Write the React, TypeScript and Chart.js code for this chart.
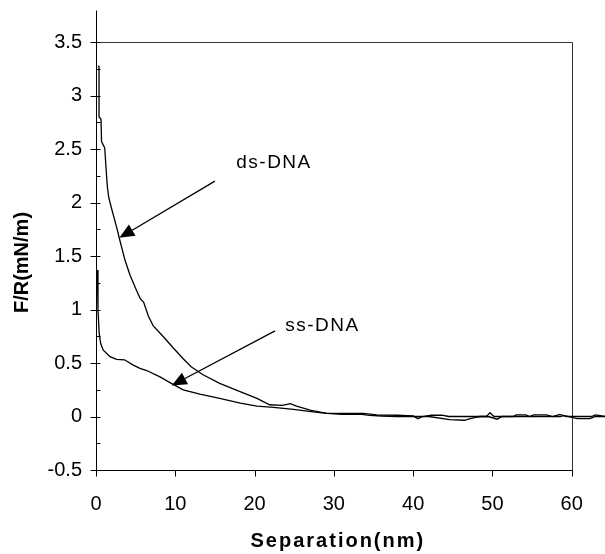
import { useEffect, useRef } from 'react';
import { Chart, registerables } from 'chart.js';

Chart.register(...registerables);

// ds-DNA force curve (separation nm, F/R mN/m)
const dsX = [0.3, 0.38, 0.38, 0.63, 0.7, 1.1, 1.26, 1.43, 1.6, 1.98, 2.6, 3.0, 3.66, 4.3, 5.1, 5.6, 6.0, 6.6, 7.2, 8.5, 9.75, 11.0, 12.0, 13.5, 15.6, 17.7, 20.3, 21.9, 23.5, 24.5, 25.2, 27.0, 29.1, 31.5, 33.7, 35.4, 38.0, 40.0, 40.6, 41.2, 42.3, 43.6, 44.5, 47.3, 48.0, 49.3, 49.7, 50.2, 52.6, 53.0, 54.2, 54.7, 55.2, 56.8, 57.6, 58.5, 59.3, 60.7, 62.5, 63.0, 64.2];
const dsY = [3.28, 3.27, 2.8, 2.78, 2.57, 2.51, 2.33, 2.15, 2.05, 1.94, 1.77, 1.65, 1.46, 1.32, 1.18, 1.1, 1.07, 0.94, 0.85, 0.745, 0.64, 0.54, 0.465, 0.39, 0.31, 0.247, 0.17, 0.11, 0.105, 0.12, 0.1, 0.06, 0.03, 0.03, 0.03, 0.015, 0.012, 0.005, -0.02, 0.0, 0.012, 0.012, 0.0, 0.0, 0.0, 0.005, 0.035, 0.0, 0.0, 0.015, 0.015, 0.0, 0.015, 0.015, 0.0, 0.02, 0.0, 0.0, 0.0, 0.015, 0.0];

// ss-DNA force curve
const ssX = [0.17, 0.25, 0.4, 0.6, 0.92, 1.77, 2.6, 3.6, 4.7, 5.55, 6.4, 8.07, 9.5, 11.0, 13.1, 15.6, 18.2, 20.3, 22.4, 24.9, 27.4, 29.1, 31.0, 33.5, 34.5, 36.0, 38.0, 40.0, 42.0, 44.6, 46.5, 47.2, 48.0, 49.5, 50.6, 51.2, 53.0, 55.0, 56.6, 57.2, 58.6, 59.0, 60.7, 62.3, 63.0, 64.2];
const ssY = [1.37, 1.0, 0.78, 0.68, 0.62, 0.56, 0.535, 0.53, 0.48, 0.45, 0.43, 0.37, 0.31, 0.25, 0.21, 0.17, 0.125, 0.098, 0.085, 0.067, 0.044, 0.03, 0.02, 0.02, 0.01, 0.005, 0.0, 0.0, 0.0, -0.03, -0.035, -0.02, -0.005, 0.0, -0.025, 0.0, 0.0, 0.0, 0.0, 0.0, 0.0, 0.01, -0.02, -0.02, 0.0, 0.0];

const xTickValues = [0, 10, 20, 30, 40, 50, 60];
const yTickValues = [-0.5, 0, 0.5, 1, 1.5, 2, 2.5, 3, 3.5];
const yMinorTickValues = [-0.25, 0.25, 0.75, 1.25, 1.75, 2.25, 2.75, 3.25];

const xAxisTitle = 'Separation(nm)';
const yAxisTitle = 'F/R(mN/m)';

const annotationLabels = ['ds-DNA', 'ss-DNA'];
const annotationTextX = [22.45, 28.57];
const annotationTextY = [2.376, 0.849];
const arrowFromX = [15.0, 22.58];
const arrowFromY = [2.2, 0.8];
const arrowToX = [2.94, 9.55];
const arrowToY = [1.67, 0.29];

const X_MIN = 0;
const X_MAX = 64.2;
const Y_MIN = -0.5;
const Y_MAX = 3.8;
const BOX_X = 60;
const BOX_Y = 3.5;

const toPoints = (xs: number[], ys: number[]) => xs.map((x, i) => ({ x, y: ys[i] }));

const framePlugin = {
  id: 'frame',
  beforeDatasetsDraw(chart: any) {
    const { ctx } = chart;
    const xs = chart.scales.x;
    const ys = chart.scales.y;
    const px = (v: number) => Math.round(xs.getPixelForValue(v)) + 0.5;
    const py = (v: number) => Math.round(ys.getPixelForValue(v)) + 0.5;
    ctx.save();
    ctx.strokeStyle = '#000';
    ctx.lineWidth = 1;
    ctx.beginPath();
    ctx.moveTo(px(0), py(Y_MAX));
    ctx.lineTo(px(0), py(Y_MIN));
    ctx.moveTo(px(0), py(Y_MIN));
    ctx.lineTo(px(BOX_X), py(Y_MIN));
    ctx.stroke();
    ctx.strokeStyle = '#333';
    ctx.beginPath();
    ctx.moveTo(px(0), py(BOX_Y));
    ctx.lineTo(px(BOX_X), py(BOX_Y));
    ctx.moveTo(px(BOX_X), py(BOX_Y));
    ctx.lineTo(px(BOX_X), py(Y_MIN));
    ctx.stroke();
    ctx.strokeStyle = '#000';
    ctx.beginPath();
    yTickValues.forEach((v) => {
      ctx.moveTo(px(0) - 6, py(v));
      ctx.lineTo(px(0) + 4, py(v));
    });
    yMinorTickValues.forEach((v) => {
      ctx.moveTo(px(0), py(v));
      ctx.lineTo(px(0) + 4, py(v));
    });
    xTickValues.forEach((v) => {
      ctx.moveTo(px(v), py(Y_MIN));
      ctx.lineTo(px(v), py(Y_MIN) + 6);
    });
    ctx.stroke();
    ctx.restore();
  },
  afterDatasetsDraw(chart: any) {
    const { ctx } = chart;
    const xs = chart.scales.x;
    const ys = chart.scales.y;
    ctx.save();
    ctx.strokeStyle = '#000';
    ctx.fillStyle = '#000';
    ctx.lineWidth = 1.3;
    annotationLabels.forEach((label, i) => {
      const x1 = xs.getPixelForValue(arrowFromX[i]);
      const y1 = ys.getPixelForValue(arrowFromY[i]);
      const x2 = xs.getPixelForValue(arrowToX[i]);
      const y2 = ys.getPixelForValue(arrowToY[i]);
      const ang = Math.atan2(y2 - y1, x2 - x1);
      const headLen = 15;
      const headW = 6.5;
      const bx = x2 - headLen * Math.cos(ang);
      const by = y2 - headLen * Math.sin(ang);
      ctx.beginPath();
      ctx.moveTo(x1, y1);
      ctx.lineTo(bx, by);
      ctx.stroke();
      ctx.beginPath();
      ctx.moveTo(x2, y2);
      ctx.lineTo(bx + headW * Math.sin(ang), by - headW * Math.cos(ang));
      ctx.lineTo(bx - headW * Math.sin(ang), by + headW * Math.cos(ang));
      ctx.closePath();
      ctx.fill();
      ctx.font = '19px "Liberation Sans", Arial, sans-serif';
      (ctx as any).letterSpacing = '1.5px';
      ctx.textAlign = 'center';
      ctx.textBaseline = 'middle';
      ctx.fillText(label, xs.getPixelForValue(annotationTextX[i]), ys.getPixelForValue(annotationTextY[i]));
    });
    ctx.font = 'bold 20px "Liberation Sans", Arial, sans-serif';
    (ctx as any).letterSpacing = '2px';
    ctx.textAlign = 'center';
    ctx.textBaseline = 'middle';
    ctx.fillText(xAxisTitle, (xs.getPixelForValue(0) + xs.getPixelForValue(BOX_X)) / 2 + 4, 541);
    (ctx as any).letterSpacing = '0px';
    ctx.translate(22.5, 262.5);
    ctx.rotate(-Math.PI / 2);
    ctx.fillText(yAxisTitle, 0, 0);
    ctx.restore();
  },
};

export default function App() {
  const canvasRef = useRef<HTMLCanvasElement | null>(null);

  useEffect(() => {
    if (!canvasRef.current) return;
    const chart = new Chart(canvasRef.current, {
      type: 'line',
      data: {
        datasets: [
          {
            label: 'ds-DNA',
            data: toPoints(dsX, dsY),
            borderColor: '#000',
            borderWidth: 1.3,
            pointRadius: 0,
            tension: 0,
            fill: false,
          },
          {
            label: 'ss-DNA',
            data: toPoints(ssX, ssY),
            borderColor: '#000',
            borderWidth: 1.3,
            pointRadius: 0,
            tension: 0,
            fill: false,
          },
        ],
      },
      options: {
        animation: false,
        responsive: false,
        layout: { padding: { top: 10, right: 0, left: 0, bottom: 0 }, autoPadding: false },
        plugins: {
          legend: { display: false },
          tooltip: { enabled: false },
          title: { display: false },
        },
        scales: {
          x: {
            type: 'linear',
            min: X_MIN,
            max: X_MAX,
            grid: { display: false, drawTicks: false },
            border: { display: false },
            afterBuildTicks: (scale: any) => {
              scale.ticks = xTickValues.map((v) => ({ value: v }));
            },
            afterFit: (scale: any) => {
              scale.height = 84;
              scale.paddingLeft = 0;
              scale.paddingRight = 0;
            },
            ticks: {
              autoSkip: false,
              maxRotation: 0,
              padding: 22,
              color: '#000',
              font: { family: '"Liberation Sans", Arial, sans-serif', size: 20 },
              callback: (v: any) => String(v),
            },
          },
          y: {
            type: 'linear',
            min: Y_MIN,
            max: Y_MAX,
            grid: { display: false, drawTicks: false },
            border: { display: false },
            afterBuildTicks: (scale: any) => {
              scale.ticks = yTickValues.map((v) => ({ value: v }));
            },
            afterFit: (scale: any) => {
              scale.width = 96;
              scale.paddingTop = 0;
              scale.paddingBottom = 0;
            },
            ticks: {
              autoSkip: false,
              padding: 14,
              color: '#000',
              font: { family: '"Liberation Sans", Arial, sans-serif', size: 20 },
              callback: (v: any) => String(v),
            },
          },
        },
      },
      plugins: [framePlugin],
    });
    return () => chart.destroy();
  }, []);

  return (
    <div style={{ position: 'absolute', left: 0, top: 0, width: 605, height: 554, background: '#fff' }}>
      <canvas ref={canvasRef} width={605} height={554} style={{ display: 'block' }} />
    </div>
  );
}
